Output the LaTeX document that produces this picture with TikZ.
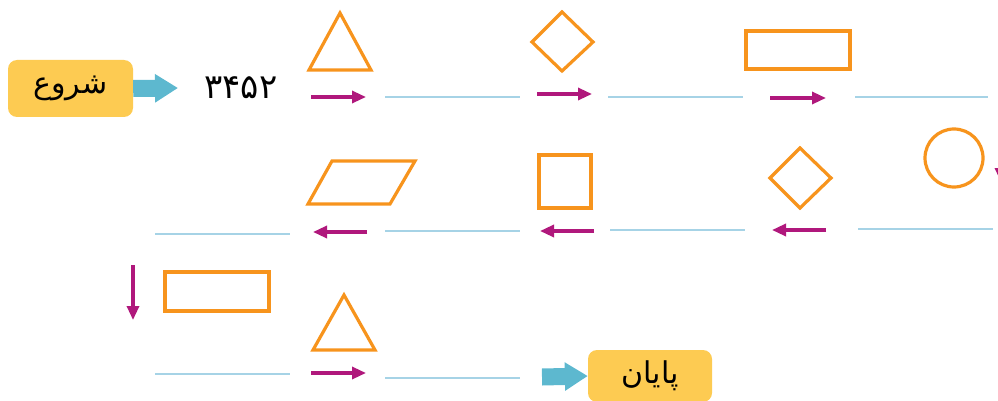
\documentclass[tikz,border=0pt]{standalone}
\usepackage{fontspec}
\usetikzlibrary{arrows.meta}
\newfontfamily\arabicfont[Script=Arabic]{DejaVu Sans}
\TeXXeTstate=1
\definecolor{cOr}{HTML}{F7941D}
\definecolor{cMg}{HTML}{B0187C}
\definecolor{cCy}{HTML}{5DB8CF}
\definecolor{cLn}{HTML}{A6D3E6}
\definecolor{cYl}{HTML}{FDCB52}

\begin{document}
\begin{tikzpicture}[x=1pt,y=-1pt,
  tag/.style={fill=cYl,rounded corners=9pt,minimum width=125pt,minimum height=57pt,
              inner sep=0,font=\arabicfont\fontsize{30}{34}\selectfont},
  fig/.style={draw=cOr,line width=3.2pt},
  marr/.style={draw=cMg,line width=3.2pt,-{Triangle[length=14pt,width=12pt]}},
  bigarr/.style={draw=cCy,line width=17pt,-{Triangle[length=23pt,width=27pt]}},
  blank/.style={draw=cLn,line width=1.5pt}]

  \useasboundingbox (0,0) rectangle (998,401);

  % ---- start ----
  \node[tag] (start) at (70.5,88.5) {\beginR شروع\endR};
  \node[font=\arabicfont\fontsize{34}{38}\selectfont] (num) at (241,88) {۳۴۵۲};
  \coordinate (a0) at (178,88);
  \draw[bigarr] (start.east) -- (a0);

  % ---- shapes ----
  \draw[fig] (340,13) -- (371,70) -- (309,70) -- cycle;
  \draw[fig] (562,12) -- (593,42) -- (562,71) -- (532,42) -- cycle;
  \draw[fig] (746,31) rectangle (850,69);
  \draw[fig] (954,158) circle[radius=29];
  \draw[fig] (800,148) -- (831,178) -- (800,208) -- (770,178) -- cycle;
  \draw[fig] (539,155) rectangle (591,208);
  \draw[fig] (332,161) -- (415,161) -- (390,204) -- (308,204) -- cycle;
  \draw[fig] (165,272) rectangle (269,311);
  \draw[fig] (344,295) -- (375,350) -- (313,350) -- cycle;

  % ---- small arrows ----
  \foreach \xa/\ya/\xb/\yb [count=\i] in
    {311/97/366/97,537/94/592/94,770/98/826/98,1001/130/1001/182,
     826/230/772/230,594/231/540/231,367/232/313/232,133/265/133/320,311/373/366/373}{
    \coordinate (ma\i) at (\xa,\ya);
    \coordinate (mb\i) at (\xb,\yb);
    \draw[marr] (ma\i) -- (mb\i);}

  % ---- blanks ----
  \foreach \xa/\xb/\y in
    {385/520/97,608/743/97,855/988/97,858/993/229,610/745/230,385/520/231,
     155/290/234,155/290/374,385/520/378}
    \draw[blank] (\xa,\y) -- (\xb,\y);

  % ---- end ----
  \node[tag,minimum width=124pt,minimum height=52pt] (stop) at (650,376) {\beginR پایان\endR};
  \coordinate (a1) at (542,377);
  \draw[bigarr] (a1) -- (stop.west);

\end{tikzpicture}
\end{document}
